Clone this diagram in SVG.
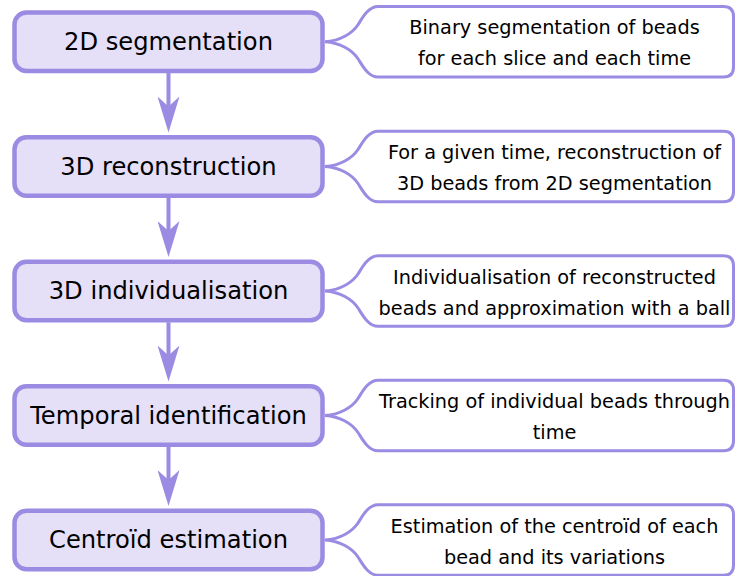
<svg xmlns="http://www.w3.org/2000/svg" width="736" height="576" viewBox="0 0 736 576">
<style>
.box{fill:#e5dff7;stroke:#9b8be3;stroke-width:4.5}
.note{fill:#ffffff;stroke:#9b8be3;stroke-width:3}
.edge{stroke:#9b8be3;stroke-width:4;fill:none}
.bt{font-family:"DejaVu Sans",sans-serif;font-size:24.2px;fill:#000;text-anchor:middle}
.nt{font-family:"DejaVu Sans",sans-serif;font-size:19.3px;fill:#000;text-anchor:middle}
</style>
<defs>
<marker id="ah" markerUnits="userSpaceOnUse" viewBox="0 0 36 22" refX="10" refY="11" markerWidth="36" markerHeight="22" orient="auto">
<path d="M0,0 L36,11 L0,22 L10,11 Z" fill="#9b8be3"/>
</marker>
</defs>
<g id="connectors">
<line class="edge" x1="168.5" y1="73" x2="168.5" y2="106.5" marker-end="url(#ah)"/>
<line class="edge" x1="168.5" y1="197.75" x2="168.5" y2="231" marker-end="url(#ah)"/>
<line class="edge" x1="168.5" y1="322.25" x2="168.5" y2="355.5" marker-end="url(#ah)"/>
<line class="edge" x1="168.5" y1="446.75" x2="168.5" y2="480" marker-end="url(#ah)"/>
</g>
<g id="n1">
<rect class="box" x="14.5" y="12.5" width="308" height="58.5" rx="12"/>
<text class="bt" x="168.5" y="49.75">2D segmentation</text>
</g>
<g id="d1">
<path class="note" transform="translate(0,41.75)" d="M325,0 C340,-1 352,-8 358,-17 C362,-23 368,-35.25 378,-35.25 L723.5,-35.25 Q733.5,-35.25 733.5,-25.25 L733.5,25.25 Q733.5,35.25 723.5,35.25 L378,35.25 C368,35.25 362,23 358,17 C352,8 340,1 325,0 Z"/>
<text class="nt" x="554.5" y="34.25">Binary segmentation of beads</text>
<text class="nt" x="554.5" y="65.25">for each slice and each time</text>
</g>
<g id="n2">
<rect class="box" x="14.5" y="137.25" width="308" height="58.5" rx="12"/>
<text class="bt" x="168.5" y="174.5">3D reconstruction</text>
</g>
<g id="d2">
<path class="note" transform="translate(0,166.5)" d="M325,0 C340,-1 352,-8 358,-17 C362,-23 368,-35.25 378,-35.25 L723.5,-35.25 Q733.5,-35.25 733.5,-25.25 L733.5,25.25 Q733.5,35.25 723.5,35.25 L378,35.25 C368,35.25 362,23 358,17 C352,8 340,1 325,0 Z"/>
<text class="nt" x="554.5" y="159">For a given time, reconstruction of</text>
<text class="nt" x="554.5" y="190">3D beads from 2D segmentation</text>
</g>
<g id="n3">
<rect class="box" x="14.5" y="261.75" width="308" height="58.5" rx="12"/>
<text class="bt" x="168.5" y="299">3D individualisation</text>
</g>
<g id="d3">
<path class="note" transform="translate(0,291)" d="M325,0 C340,-1 352,-8 358,-17 C362,-23 368,-35.25 378,-35.25 L723.5,-35.25 Q733.5,-35.25 733.5,-25.25 L733.5,25.25 Q733.5,35.25 723.5,35.25 L378,35.25 C368,35.25 362,23 358,17 C352,8 340,1 325,0 Z"/>
<text class="nt" x="554.5" y="283.5">Individualisation of reconstructed</text>
<text class="nt" x="554.5" y="314.5">beads and approximation with a ball</text>
</g>
<g id="n4">
<rect class="box" x="14.5" y="386.25" width="308" height="58.5" rx="12"/>
<text class="bt" x="168.5" y="423.5">Temporal identification</text>
</g>
<g id="d4">
<path class="note" transform="translate(0,415.5)" d="M325,0 C340,-1 352,-8 358,-17 C362,-23 368,-35.25 378,-35.25 L723.5,-35.25 Q733.5,-35.25 733.5,-25.25 L733.5,25.25 Q733.5,35.25 723.5,35.25 L378,35.25 C368,35.25 362,23 358,17 C352,8 340,1 325,0 Z"/>
<text class="nt" x="554.5" y="408">Tracking of individual beads through</text>
<text class="nt" x="554.5" y="439">time</text>
</g>
<g id="n5">
<rect class="box" x="14.5" y="510.75" width="308" height="58.5" rx="12"/>
<text class="bt" x="168.5" y="548">Centroïd estimation</text>
</g>
<g id="d5">
<path class="note" transform="translate(0,540)" d="M325,0 C340,-1 352,-8 358,-17 C362,-23 368,-35.25 378,-35.25 L723.5,-35.25 Q733.5,-35.25 733.5,-25.25 L733.5,25.25 Q733.5,35.25 723.5,35.25 L378,35.25 C368,35.25 362,23 358,17 C352,8 340,1 325,0 Z"/>
<text class="nt" x="554.5" y="532.5">Estimation of the centroïd of each</text>
<text class="nt" x="554.5" y="563.5">bead and its variations</text>
</g>
</svg>
